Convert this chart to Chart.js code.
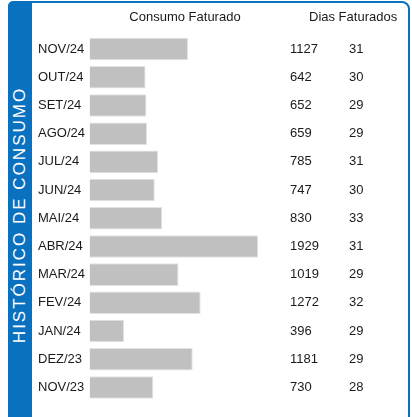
<!DOCTYPE html>
<html>
<head>
<meta charset="utf-8">
<script src="https://cdn.jsdelivr.net/npm/chart.js@4"></script>
<style>
  html, body { margin: 0; padding: 0; background: #fff; }
  #wrap { position: relative; width: 412px; height: 417px; overflow: hidden; }
  /* blue frame with the wide left band */
  #frame {
    position: absolute; left: 8px; top: 1px; width: 402px; height: 440px;
    box-sizing: border-box; border: 2px solid #0a70c0; border-left-width: 24px;
    border-radius: 5px 8px 0 0;
  }
  #side {
    position: absolute; left: 20px; top: 215px; color: #fff;
    font: 17px "Liberation Sans", Arial, sans-serif; letter-spacing: 2px;
    white-space: nowrap; transform: translate(-50%, -50%) rotate(-90deg);
  }
  canvas { position: absolute; left: 0; top: 0; }
</style>
</head>
<body>
<div id="wrap">
  <div id="frame"></div>
  <div id="side">HISTÓRICO DE CONSUMO</div>
  <canvas id="consumoChart" width="412" height="417"></canvas>
</div>
<script>
// monthly billing history, newest first
const meses = ['NOV/24', 'OUT/24', 'SET/24', 'AGO/24', 'JUL/24', 'JUN/24', 'MAI/24',
               'ABR/24', 'MAR/24', 'FEV/24', 'JAN/24', 'DEZ/23', 'NOV/23'];
const consumo = [1127, 642, 652, 659, 785, 747, 830, 1929, 1019, 1272, 396, 1181, 730];
const dias = [31, 30, 29, 29, 31, 30, 33, 31, 29, 32, 29, 29, 28];

const FONT = '"Liberation Sans", Arial, sans-serif';

// draws the headers and the two number columns next to the bars
const tablePlugin = {
    id: 'tabela',
    afterDraw(chart) {
        const ctx = chart.ctx;
        const y = chart.scales.y;
        ctx.save();
        ctx.fillStyle = '#1a1a1a';
        ctx.font = '13px ' + FONT;
        ctx.textBaseline = 'middle';

        ctx.textAlign = 'center';
        ctx.fillText('Consumo Faturado', 185, 17);
        ctx.textAlign = 'left';
        ctx.fillText('Dias Faturados', 309, 17);

        meses.forEach((m, i) => {
            const py = y.getPixelForValue(i);
            ctx.fillText(String(consumo[i]), 290, py);
            ctx.fillText(String(dias[i]), 349, py);
        });
        ctx.restore();
    }
};

new Chart(document.getElementById('consumoChart'), {
    type: 'bar',
    data: {
        labels: meses,
        datasets: [{
            label: 'Consumo Faturado',
            data: consumo,
            backgroundColor: '#c0c0c0',
            borderColor: '#e2e2e2',
            borderWidth: 1,
            barPercentage: 0.8,
            categoryPercentage: 1
        }]
    },
    options: {
        indexAxis: 'y',
        responsive: false,
        devicePixelRatio: 1,
        animation: false,
        layout: { padding: { left: 38, top: 35, bottom: 15.5, right: 132 } },
        plugins: { legend: { display: false }, tooltip: { enabled: false } },
        scales: {
            x: { display: false, min: 0, max: 2180 },
            y: {
                grid: { display: false },
                border: { display: false },
                afterFit: (scale) => { scale.width = 51.5; },
                ticks: {
                    crossAlign: 'far',
                    color: '#1a1a1a',
                    font: { family: FONT, size: 13 }
                }
            }
        }
    },
    plugins: [tablePlugin]
});
</script>
</body>
</html>
